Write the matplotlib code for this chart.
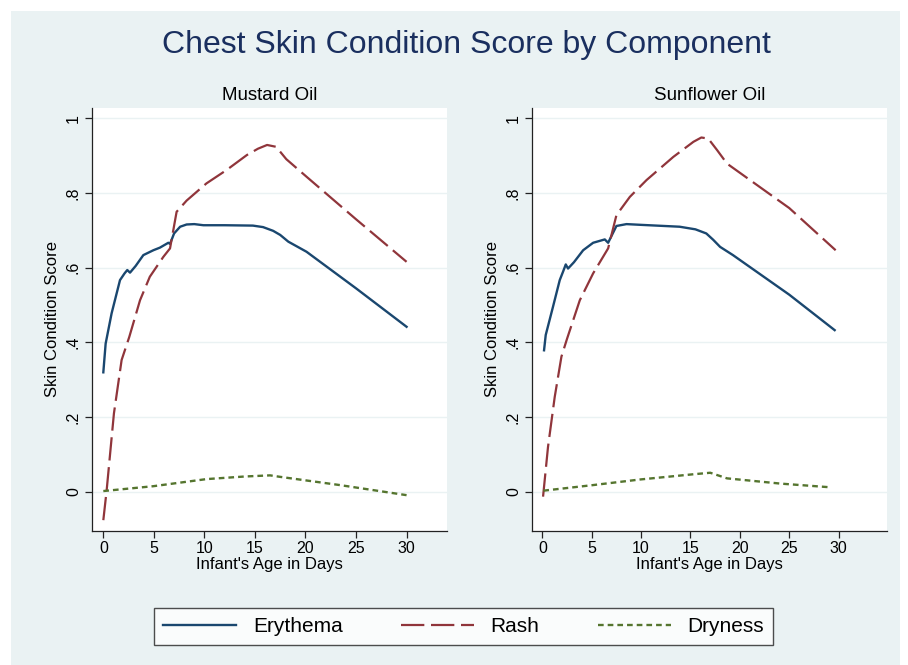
import matplotlib
matplotlib.use("Agg")
import matplotlib.pyplot as plt
from matplotlib.patches import Rectangle
from matplotlib.lines import Line2D

plt.rcParams['font.family'] = ['Liberation Sans', 'DejaVu Sans']

# ---------------- data ----------------
title = "Chest Skin Condition Score by Component"
panel_titles = ["Mustard Oil", "Sunflower Oil"]
series_names = ["Erythema", "Rash", "Dryness"]
x_label = "Infant's Age in Days"
y_label = "Skin Condition Score"
x_ticks = [0, 5, 10, 15, 20, 25, 30]
y_ticks = [0, 0.2, 0.4, 0.6, 0.8, 1.0]
y_tick_labels = ["0", ".2", ".4", ".6", ".8", "1"]

# Mustard oil
mo_ery_x = [0.0, 0.23, 0.82, 1.65, 2.1, 2.37, 2.64, 3.2, 3.96, 4.95, 5.6, 6.43, 6.6, 7.0, 7.6, 8.24, 9.0, 9.9, 12.0, 14.8, 15.8, 16.8, 17.5, 18.3, 20.1, 25.0, 30.0]
mo_ery_y = [0.32, 0.397, 0.478, 0.567, 0.585, 0.594, 0.587, 0.605, 0.634, 0.647, 0.654, 0.667, 0.664, 0.692, 0.710, 0.716, 0.717, 0.714, 0.714, 0.713, 0.709, 0.699, 0.688, 0.670, 0.643, 0.545, 0.442]
mo_rash_x = [0.0, 0.33, 1.05, 1.81, 2.57, 3.63, 4.6, 5.93, 6.6, 7.25, 8.24, 10.2, 12.2, 14.2, 15.3, 16.2, 17.1, 18.1, 20.1, 25.0, 30.0]
mo_rash_y = [-0.076, 0.004, 0.21, 0.353, 0.415, 0.513, 0.576, 0.629, 0.652, 0.75, 0.78, 0.826, 0.862, 0.902, 0.919, 0.929, 0.924, 0.891, 0.844, 0.73, 0.616]
mo_dry_x = [0.0, 4.95, 10.2, 14.0, 16.5, 17.5, 23.4, 30.0]
mo_dry_y = [0.002, 0.015, 0.034, 0.041, 0.044, 0.040, 0.018, -0.009]

# Sunflower oil
so_ery_x = [0.17, 0.34, 1.08, 1.76, 2.1, 2.37, 2.6, 3.2, 4.13, 5.14, 6.32, 6.66, 7.5, 8.52, 10.0, 13.9, 15.5, 16.6, 17.3, 18.0, 19.3, 25.0, 29.6]
so_ery_y = [0.379, 0.42, 0.496, 0.567, 0.59, 0.609, 0.598, 0.615, 0.647, 0.667, 0.676, 0.667, 0.712, 0.717, 0.715, 0.71, 0.703, 0.692, 0.675, 0.656, 0.634, 0.528, 0.433]
so_rash_x = [0.07, 0.57, 1.25, 1.93, 2.5, 3.79, 5.14, 6.66, 7.5, 8.86, 10.55, 13.26, 15.3, 16.1, 16.8, 17.7, 18.7, 25.0, 29.7]
so_rash_y = [-0.013, 0.12, 0.254, 0.362, 0.41, 0.513, 0.585, 0.652, 0.741, 0.79, 0.835, 0.897, 0.9375, 0.949, 0.946, 0.915, 0.879, 0.76, 0.647]
so_dry_x = [0.1, 5.14, 9.9, 15.3, 17.0, 18.7, 24.1, 29.2]
so_dry_y = [0.003, 0.018, 0.033, 0.047, 0.051, 0.036, 0.022, 0.012]

panels = [
    (mo_ery_x, mo_ery_y, mo_rash_x, mo_rash_y, mo_dry_x, mo_dry_y),
    (so_ery_x, so_ery_y, so_rash_x, so_rash_y, so_dry_x, so_dry_y),
]

# ---------------- style ----------------
W, H = 908, 665
bg = "#EAF2F3"
c_ery = "#1A476F"
c_rash = "#90353B"
c_dry = "#55752F"
title_col = "#1A2F5F"

fig = plt.figure(figsize=(W / 100, H / 100), dpi=100, facecolor="white")
fig.patches.append(Rectangle((11 / W, 0), (900 - 11) / W, (H - 11) / H,
                             transform=fig.transFigure, facecolor=bg,
                             edgecolor="none", zorder=-10))

fig.text(466 / W, 1 - 45 / H, title, ha="center", va="center",
         fontsize=23, color=title_col)

axes_px = [(92, 447, (-1.12, 34.0)), (532, 887, (-1.05, 34.9))]
styles = [
    dict(color=c_ery, lw=1.7, linestyle="-"),
    dict(color=c_rash, lw=1.6, dashes=(10.5, 3.0)),
    dict(color=c_dry, lw=1.7, dashes=(2.4, 1.7)),
]

for i, ((x0, x1, xl), data) in enumerate(zip(axes_px, panels)):
    top, bot = 108, 531
    ax = fig.add_axes([x0 / W, 1 - bot / H, (x1 - x0) / W, (bot - top) / H])
    ax.set_facecolor("white")
    ax.set_xlim(*xl)
    ax.set_ylim(-0.105, 1.028)
    for yt in y_ticks:
        ax.axhline(yt, color=bg, lw=1.0, zorder=0)
    for k in range(3):
        ax.plot(data[2 * k], data[2 * k + 1], **styles[k], zorder=3)
    ax.spines["top"].set_visible(False)
    ax.spines["right"].set_visible(False)
    for s in ("left", "bottom"):
        ax.spines[s].set_color("#222222")
        ax.spines[s].set_linewidth(0.9)
    ax.set_xticks(x_ticks)
    ax.set_xticklabels([str(t) for t in x_ticks], fontsize=11.5)
    ax.set_yticks(y_ticks)
    ax.set_yticklabels(y_tick_labels, fontsize=11.5, rotation=90, va="center")
    ax.tick_params(length=5, width=0.9, color="#222222", pad=3)
    ax.tick_params(axis="x", pad=2)
    ax.set_xlabel(x_label, fontsize=12, labelpad=1)
    ax.set_ylabel(y_label, fontsize=12, labelpad=4)
    ax.set_title(panel_titles[i], fontsize=13.5, pad=6)

handles = [Line2D([], [], **styles[k]) for k in range(3)]
leg = fig.legend(handles, series_names, loc="center",
                 bbox_to_anchor=(463.5 / W, 1 - 626.5 / H), ncol=3,
                 fontsize=15, frameon=True, fancybox=False,
                 edgecolor="#222222", handlelength=3.5, handletextpad=0.8,
                 columnspacing=2.8, borderpad=0.45)
leg.get_frame().set_linewidth(1.0)
leg.get_frame().set_facecolor("white")

fig.savefig("out.png", dpi=100, facecolor="white")
